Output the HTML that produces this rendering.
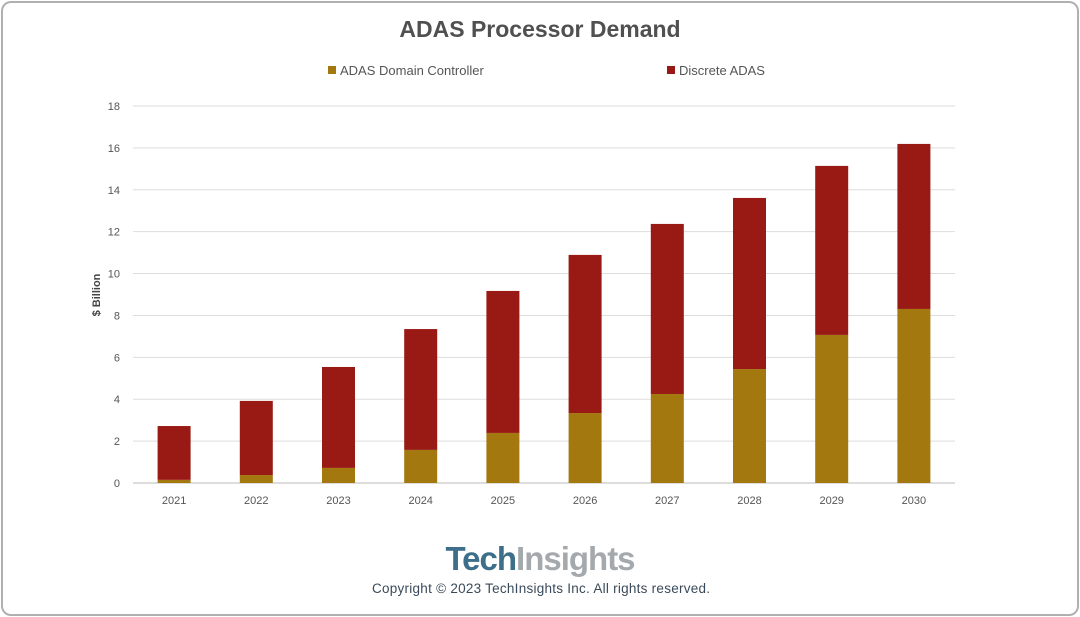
<!DOCTYPE html>
<html><head><meta charset="utf-8"><style>
body{margin:0;width:1080px;height:617px;background:#fff;font-family:"Liberation Sans",sans-serif;}
#frame{position:absolute;left:1px;top:1px;width:1074px;height:611px;border:2px solid #b0b0b0;border-radius:10px;}
</style></head><body>
<div id="frame"></div>
<svg id="c" width="1080" height="617" style="position:absolute;left:0;top:0">
<text x="540" y="37" text-anchor="middle" font-size="23" font-weight="bold" fill="#505050">ADAS Processor Demand</text>
<g><rect x="328" y="66" width="8" height="8" fill="#a3780f"/><text x="340" y="75" font-size="13" fill="#555">ADAS Domain Controller</text></g>
<g><rect x="667" y="66" width="8" height="8" fill="#991a15"/><text x="679" y="75" font-size="13" fill="#555">Discrete ADAS</text></g>
<text transform="translate(100,295) rotate(-90)" text-anchor="middle" font-size="11" font-weight="bold" fill="#444">$ Billion</text>
<g id="grid"></g><g id="bars"></g>
<text x="540" y="570" text-anchor="middle" font-size="33" font-weight="bold" letter-spacing="-1"><tspan fill="#3d6e8a">Tech</tspan><tspan fill="#a4a9ad">Insights</tspan></text>
<text x="372" y="593" textLength="338" lengthAdjust="spacing" font-size="13.5" fill="#3a4a5a">Copyright © 2023 TechInsights Inc.  All rights reserved.</text>
</svg>
<script>
const categories=["2021","2022","2023","2024","2025","2026","2027","2028","2029","2030"];
const domainController=[0.15,0.38,0.72,1.58,2.39,3.34,4.25,5.44,7.07,8.31];
const discreteAdas=[2.57,3.54,4.82,5.77,6.78,7.55,8.12,8.17,8.07,7.88];
const yTicks=[0,2,4,6,8,10,12,14,16,18];
const ns="http://www.w3.org/2000/svg";
const x0=133,x1=955,y0=483,yTop=106,yMax=18;
const y=v=>y0-(v/yMax)*(y0-yTop);
const band=(x1-x0)/categories.length;
const xc=i=>x0+band*(i+0.5);
const g=document.getElementById('grid'),b=document.getElementById('bars');
yTicks.forEach(t=>{
 const l=document.createElementNS(ns,'line');
 l.setAttribute('x1',x0);l.setAttribute('x2',x1);l.setAttribute('y1',y(t));l.setAttribute('y2',y(t));
 l.setAttribute('stroke',t===0?'#bbb':'#ddd');
 
 
 g.appendChild(l);
 const tx=document.createElementNS(ns,'text');
 tx.setAttribute('x',120);tx.setAttribute('y',y(t)+4);tx.setAttribute('text-anchor','end');
 tx.setAttribute('font-size','11');tx.setAttribute('fill','#555');tx.textContent=t;
 
 
 g.appendChild(tx);
});
categories.forEach((c,i)=>{
 const w=33,x=xc(i)-w/2;
 const r1=document.createElementNS(ns,'rect');
 r1.setAttribute('x',x);r1.setAttribute('width',w);r1.setAttribute('y',y(domainController[i]));
 r1.setAttribute('height',y0-y(domainController[i]));r1.setAttribute('fill','#a3780f');
 
 
 b.appendChild(r1);
 const tot=domainController[i]+discreteAdas[i];
 const r2=document.createElementNS(ns,'rect');
 r2.setAttribute('x',x);r2.setAttribute('width',w);r2.setAttribute('y',y(tot));
 r2.setAttribute('height',y(domainController[i])-y(tot));r2.setAttribute('fill','#991a15');
 
 
 b.appendChild(r2);
 const tx=document.createElementNS(ns,'text');
 tx.setAttribute('x',xc(i));tx.setAttribute('y',504);tx.setAttribute('text-anchor','middle');
 tx.setAttribute('font-size','11');tx.setAttribute('fill','#555');tx.textContent=c;
 
 
 b.appendChild(tx);
});
</script>
</body></html>
